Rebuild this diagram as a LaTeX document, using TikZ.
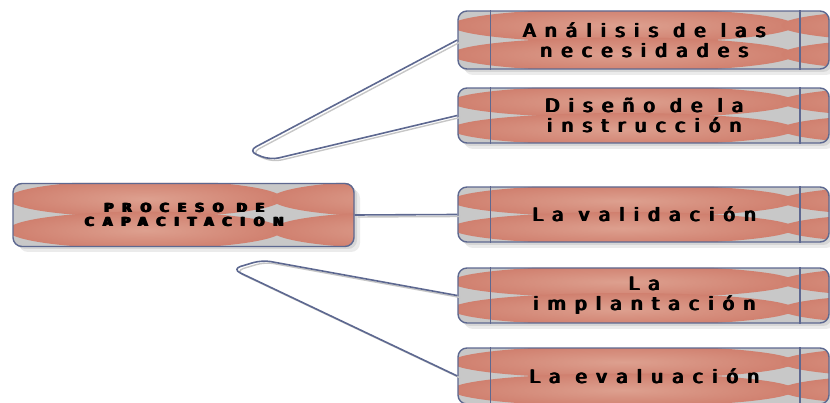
\documentclass[tikz,border=0pt]{standalone}
\usepackage{fontspec}
\setmainfont{DejaVu Sans}
\newfontfamily\stepfont{DejaVu Sans}[LetterSpace=50]
\newfontfamily\headfont{DejaVu Sans}[LetterSpace=70]
\definecolor{salmon}{HTML}{D0806F}
\definecolor{salmonlight}{HTML}{DDA08F}
\definecolor{panelgrey}{HTML}{C8C8C8}
\definecolor{edge}{HTML}{5D6890}
\definecolor{linkshade}{HTML}{C6C6C6}

% a line of text set several times, nudged right, for broad heavy strokes
\newcommand\heavy[1]{\rlap{\kern1.8pt #1}\rlap{\kern1.2pt #1}\rlap{\kern0.6pt #1}#1}

% Panel background: soft shadow, grey ground and a 2x2 grid of salmon ovals
% #1,#2 = top-left corner, #3,#4 = bottom-right corner, #5 = column split
\newcommand\ovalpanel[5]{%
  \fill[black!8, rounded corners=9pt] ({#1+6},{#2+6}) rectangle ({#3+6},{#4+6});
  \fill[black!16, rounded corners=9pt] ({#1+3},{#2+3}) rectangle ({#3+3},{#4+3});
  \begin{scope}
    \clip[rounded corners=9pt] (#1,#2) rectangle (#3,#4);
    \fill[panelgrey] (#1,#2) rectangle (#3,#4);
    \pgfmathsetmacro\ovrx{(#5-#1)/2*1.04}
    \pgfmathsetmacro\ovry{(#4-#2)/4*1.18}
    \pgfmathsetmacro\ovxa{(#1+#5)/2}
    \pgfmathsetmacro\ovxb{#5+(#5-#1)/2}
    \pgfmathsetmacro\ovya{#2+(#4-#2)/4}
    \pgfmathsetmacro\ovyb{#4-(#4-#2)/4}
    \foreach \cx in {\ovxa,\ovxb}
      \foreach \cy in {\ovya,\ovyb}
        \shade[inner color=salmonlight, outer color=salmon]
          (\cx,\cy) ellipse [x radius=\ovrx pt, y radius=\ovry pt];
  \end{scope}}

\tikzset{
  panel/.style={draw=edge, line width=1.4pt, rounded corners=9pt,
    inner sep=0pt, align=center, text=black},
  stepbox/.style={panel, minimum width=371pt,
    font=\stepfont\fontsize{18.5}{19.5}\selectfont},
  headbox/.style={panel, minimum width=341pt, minimum height=63pt,
    font=\headfont\bfseries\fontsize{12.5}{14}\selectfont},
  bar/.style={draw=edge, line width=1.6pt},
  link/.style={draw=edge, line width=1.6pt, rounded corners=9pt},
  linkshadow/.style={draw=linkshade, line width=1.4pt, rounded corners=9pt,
    transform canvas={xshift=3pt, yshift=-2pt}},
}

\begin{document}
\begin{tikzpicture}[x=1pt, y=-1pt]
  \useasboundingbox (0,0) rectangle (830,403);

  % panel grounds
  \ovalpanel{13}{183}{354}{246}{277}
  \ovalpanel{458}{11}{829}{69}{788}
  \ovalpanel{458}{88}{829}{143}{788}
  \ovalpanel{458}{187}{829}{242}{788}
  \ovalpanel{458}{268}{829}{323}{788}
  \ovalpanel{458}{348}{829}{404}{788}

  % boxes
  \node[headbox] (proc) at (183.5,215) {\heavy{PROCESO DE}\\\heavy{CAPACITACION}};
  \node[stepbox, minimum height=58pt] (n1) at (643.5,40)    {\heavy{Análisis de las}\\\heavy{necesidades}};
  \node[stepbox, minimum height=55pt] (n2) at (643.5,115.5) {\heavy{Diseño de la}\\\heavy{instrucción}};
  \node[stepbox, minimum height=55pt] (n3) at (643.5,214.5) {\heavy{La validación}};
  \node[stepbox, minimum height=55pt] (n4) at (643.5,295.5) {\heavy{La}\\\heavy{implantación}};
  \node[stepbox, minimum height=56pt] (n5) at (643.5,376)   {\heavy{La evaluación}};

  % inner side bars of the step boxes
  \foreach \n in {n1,n2,n3,n4,n5} {
    \draw[bar] ([xshift=33pt]\n.north west) -- ([xshift=33pt]\n.south west);
    \draw[bar] ([xshift=-30pt]\n.north east) -- ([xshift=-30pt]\n.south east);
  }

  % hairpin turns of the connectors
  \coordinate (h1a) at (248,151);
  \coordinate (h1b) at (270,160);
  \coordinate (h2a) at (262,260);
  \coordinate (h2b) at (232,269);

  % connectors
  \draw[linkshadow] (n1.west) -- (h1a) -- (h1b) -- (n2.west);
  \draw[link]       (n1.west) -- (h1a) -- (h1b) -- (n2.west);
  \draw[linkshadow] (proc.east) -- (n3.west);
  \draw[link]       (proc.east) -- (n3.west);
  \draw[linkshadow] (n4.west) -- (h2a) -- (h2b) -- (n5.west);
  \draw[link]       (n4.west) -- (h2a) -- (h2b) -- (n5.west);
\end{tikzpicture}
\end{document}
